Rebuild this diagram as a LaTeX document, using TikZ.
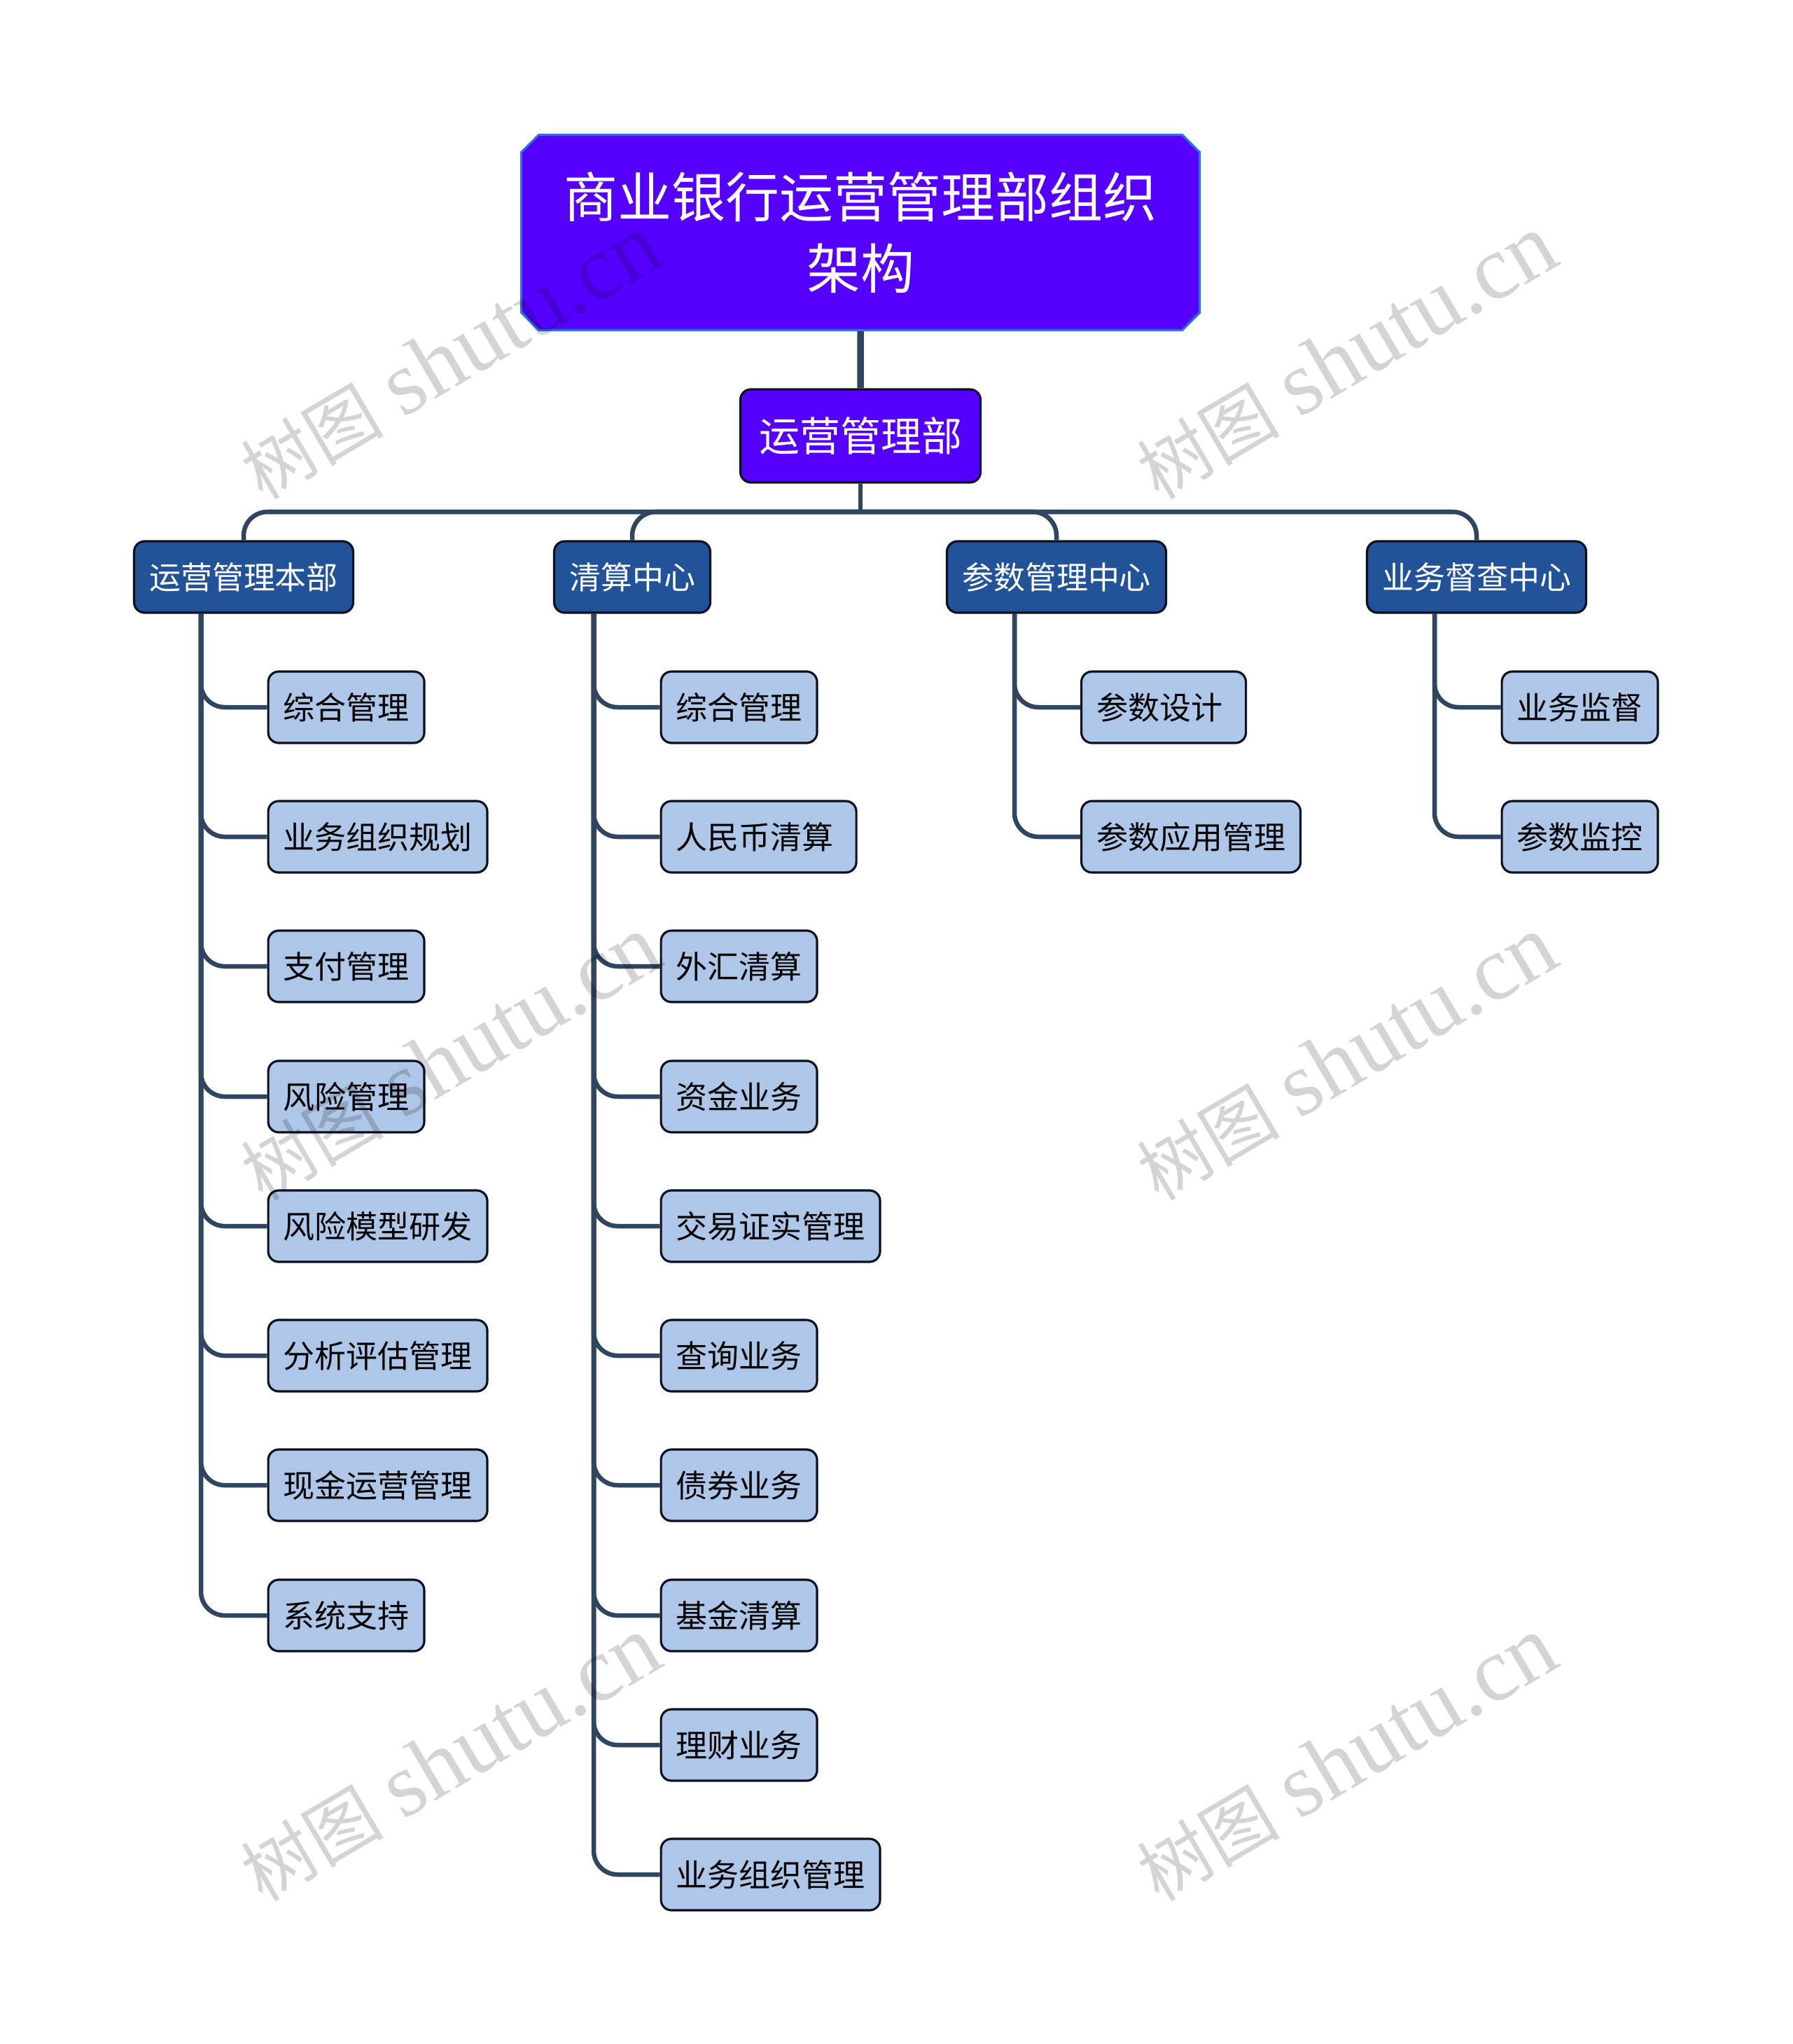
\documentclass[tikz,border=0pt]{standalone}
\usepackage{fontspec}
\setmainfont{Noto Sans CJK SC}
\newfontfamily\markfont{Liberation Serif}
\usetikzlibrary{shapes.misc}
\definecolor{rootblue}{HTML}{5500FF}
\definecolor{rootedge}{HTML}{2F6FE8}
\definecolor{deptblue}{HTML}{225297}
\definecolor{leafblue}{HTML}{AEC6E8}
\definecolor{edgedark}{HTML}{0B1020}
\definecolor{linkdark}{HTML}{2F4560}
\newcommand{\marktext}{{\fontsize{29}{32}\selectfont 树图} {\markfont shutu.cn}}
\tikzset{
  rootbox/.style={shape=chamfered rectangle, chamfered rectangle xsep=0.125cm, chamfered rectangle ysep=0.125cm, draw=rootedge, fill=rootblue, text=white, line width=0.9pt, minimum width=9.69cm, minimum height=2.79cm, inner sep=0pt, align=center, font=\fontsize{21.9}{29}\selectfont},
  unitbox/.style={shape=rectangle, draw=edgedark, rounded corners=0.15cm, line width=0.9pt, inner xsep=0.215cm, inner ysep=0pt, minimum height=1.02cm, font=\fontsize{12.8}{15}\selectfont},
  deptbox/.style={unitbox, fill=rootblue, text=white, minimum width=3.43cm, minimum height=1.33cm, font=\fontsize{16.5}{20}\selectfont},
  centerbox/.style={unitbox, fill=deptblue, text=white},
  leafbox/.style={unitbox, fill=leafblue, text=black, anchor=west},
  branch/.style={draw=linkdark, line width=1.85pt, rounded corners=0.34cm},
  thickbranch/.style={draw=linkdark, line width=2.7pt},
  markbox/.style={shape=rectangle, rotate=30.5, text=black, text opacity=0.17, inner sep=0pt, font=\fontsize{37}{42}\selectfont}
}
\begin{document}
\begin{tikzpicture}
\useasboundingbox (0, 0) rectangle (25.6, -29.19);
\node at (12.29, -3.32) [rootbox] (root) {商业银行运营管理部组织\\架构};
\node at (12.29, -6.225) [deptbox] (dept) {运营管理部};
\coordinate (bus) at (12.29, -7.31);
% four centers
\node at (3.48, -8.24) [centerbox] (hq) {运营管理本部};
\node at (9.03, -8.24) [centerbox] (clr) {清算中心};
\node at (15.09, -8.24) [centerbox] (par) {参数管理中心};
\node at (21.09, -8.24) [centerbox] (chk) {业务督查中心};
\coordinate (hqtop) at (2.87, -8.76);
\coordinate (clrtop) at (8.48, -8.76);
\coordinate (partop) at (14.49, -8.76);
\coordinate (chktop) at (20.49, -8.76);
% first column
\node at (3.815, -10.10) [leafbox] (hq1) {综合管理};
\node at (3.815, -11.95) [leafbox] (hq2) {业务组织规划};
\node at (3.815, -13.80) [leafbox] (hq3) {支付管理};
\node at (3.815, -15.66) [leafbox] (hq4) {风险管理};
\node at (3.815, -17.51) [leafbox] (hq5) {风险模型研发};
\node at (3.815, -19.36) [leafbox] (hq6) {分析评估管理};
\node at (3.815, -21.21) [leafbox] (hq7) {现金运营管理};
\node at (3.815, -23.07) [leafbox] (hq8) {系统支持};
% second column
\node at (9.425, -10.10) [leafbox] (clr1) {综合管理};
\node at (9.425, -11.95) [leafbox, text width=2.36cm, align=left] (clr2) {人民币清算};
\node at (9.425, -13.80) [leafbox] (clr3) {外汇清算};
\node at (9.425, -15.66) [leafbox] (clr4) {资金业务};
\node at (9.425, -17.51) [leafbox] (clr5) {交易证实管理};
\node at (9.425, -19.36) [leafbox] (clr6) {查询业务};
\node at (9.425, -21.21) [leafbox] (clr7) {债券业务};
\node at (9.425, -23.07) [leafbox] (clr8) {基金清算};
\node at (9.425, -24.92) [leafbox] (clr9) {理财业务};
\node at (9.425, -26.77) [leafbox] (clr10) {业务组织管理};
% third and fourth column
\node at (15.43, -10.10) [leafbox, text width=1.92cm, align=left] (par1) {参数设计};
\node at (15.43, -11.95) [leafbox] (par2) {参数应用管理};
\node at (21.435, -10.10) [leafbox] (chk1) {业务监督};
\node at (21.435, -11.95) [leafbox] (chk2) {参数监控};
% connectors
\draw [thickbranch] (root) to (dept);
\draw [branch] (dept) to (bus);
\draw [branch] (bus) -| (hq);
\draw [branch] (bus) -| (clr);
\draw [branch] (bus) -| (par);
\draw [branch] (bus) -| (chk);
\draw [branch] (hqtop) |- (hq1);
\draw [branch] (hqtop) |- (hq2);
\draw [branch] (hqtop) |- (hq3);
\draw [branch] (hqtop) |- (hq4);
\draw [branch] (hqtop) |- (hq5);
\draw [branch] (hqtop) |- (hq6);
\draw [branch] (hqtop) |- (hq7);
\draw [branch] (hqtop) |- (hq8);
\draw [branch] (clrtop) |- (clr1);
\draw [branch] (clrtop) |- (clr2);
\draw [branch] (clrtop) |- (clr3);
\draw [branch] (clrtop) |- (clr4);
\draw [branch] (clrtop) |- (clr5);
\draw [branch] (clrtop) |- (clr6);
\draw [branch] (clrtop) |- (clr7);
\draw [branch] (clrtop) |- (clr8);
\draw [branch] (clrtop) |- (clr9);
\draw [branch] (clrtop) |- (clr10);
\draw [branch] (partop) |- (par1);
\draw [branch] (partop) |- (par2);
\draw [branch] (chktop) |- (chk1);
\draw [branch] (chktop) |- (chk2);
% watermarks
\node at (6.43, -5.10) [markbox] (mark1) {\marktext};
\node at (19.23, -5.10) [markbox] (mark2) {\marktext};
\node at (6.43, -15.11) [markbox] (mark3) {\marktext};
\node at (19.23, -15.11) [markbox] (mark4) {\marktext};
\node at (6.43, -25.12) [markbox] (mark5) {\marktext};
\node at (19.23, -25.12) [markbox] (mark6) {\marktext};
\end{tikzpicture}
\end{document}
